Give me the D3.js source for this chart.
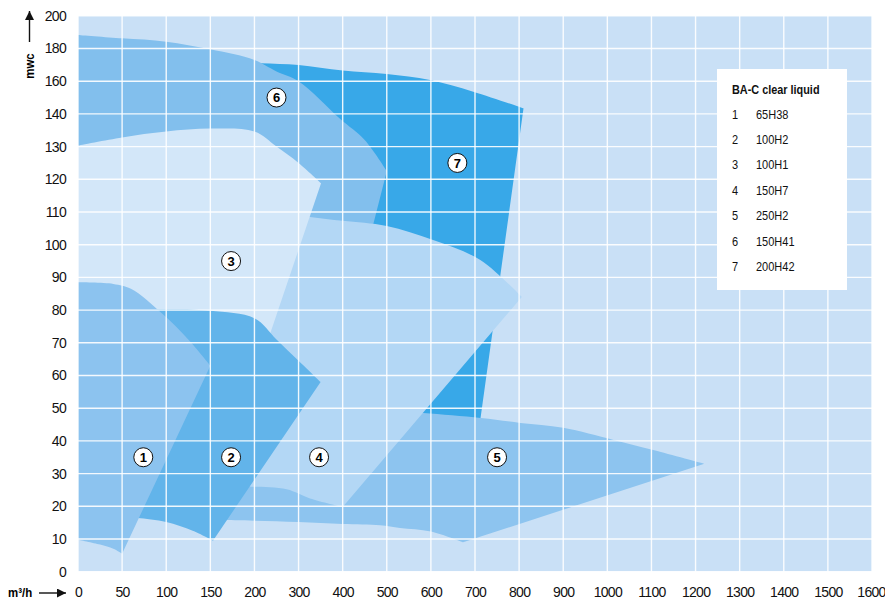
<!DOCTYPE html>
<html>
<head>
<meta charset="utf-8">
<script src="https://cdn.jsdelivr.net/npm/d3@7/dist/d3.min.js"></script>
<style>
  body { margin: 0; background: #fff; }
  svg { display: block; }
  .tick text { font-family: "Liberation Sans", Arial, sans-serif; font-size: 14px; letter-spacing: -0.7px; fill: #111; }
</style>
</head>
<body>
<svg width="885" height="601"></svg>
<script>
'use strict';

// axis ticks (scales are stretched: 50 per step up to 200, then 100 per step)
var xTicks = [0, 50, 100, 150, 200, 300, 400, 500, 600, 700, 800, 900, 1000, 1100, 1200, 1300, 1400, 1500, 1600];
var yTicks = [0, 10, 20, 30, 40, 50, 60, 70, 80, 90, 100, 110, 120, 130, 140, 160, 180, 200];

// pump ranges, [Q m3/h, H mwc]; each outline is a list of runs, runs joined by straight edges
var pump1 = [
    [[0, 88.5], [40, 88], [60, 86.5], [95, 79], [125, 71], [150, 63]],
    [[50, 5.5], [40, 7], [25, 8.3], [0, 9.8]]
];
var pump2 = [
    [[70, 80], [100, 80.2], [150, 79.8], [200, 77.5], [250, 71], [300, 64.5], [350, 58]],
    [[153, 9.5], [130, 12.5], [100, 15.2], [68, 16.4], [60, 16.5]]
];
var pump3 = [
    [[0, 130.3], [50, 132.8], [100, 134.6], [150, 135.5], [200, 134.6], [250, 130], [300, 125], [351, 118.8]],
    [[200, 58.6], [100, 55], [0, 55]]
];
var pump4 = [
    [[250, 110], [326, 108.5], [400, 107.3], [500, 105.7], [605, 101.4], [712, 95.3], [806, 84]],
    [[400, 19.8], [326, 22.4], [273, 25.2], [197, 26], [185, 26]],
    [[190, 60], [230, 100]]
];
var pump5 = [
    [[180, 50], [350, 49.8], [500, 49.2], [583, 48.5], [713, 47], [803, 45.5], [900, 44], [1014, 40.3], [1104, 37.2], [1220, 33]],
    [[673, 9], [600, 12.3], [530, 13.4], [485, 14.2], [400, 14.6], [300, 15.2], [200, 15.6], [160, 15.8], [150, 16]]
];
var pump6 = [
    [[0, 188.3], [50, 186.2], [100, 184.2], [150, 179.5], [200, 173], [250, 166], [300, 160], [394, 138.5], [450, 132], [500, 122.5]],
    [[450, 96], [300, 100]],
    [[150, 118], [0, 120]]
];
var pump7 = [
    [[150, 172], [213, 171], [300, 169.9], [400, 166.5], [500, 164.4], [598, 160.7], [696, 153.6], [810, 143.4]],
    [[712, 46.5], [520, 42]],
    [[450, 90], [300, 140]],
    [[200, 150], [150, 150]]
];

var pumpIds = ['1', '2', '3', '4', '5', '6', '7'];
var pumpNames = ['65H38', '100H2', '100H1', '150H7', '250H2', '150H41', '200H42'];
var labelPos = [[74, 35], [173.5, 35], [173.5, 95], [346.5, 35], [750, 35], [250, 150], [660, 125]];
var pumpColors = ['#8cc3ef', '#62b4ea', '#d3e7f9', '#b3d7f5', '#8dc4ef', '#82bfed', '#38a8e8'];

var outlines = [pump1, pump2, pump3, pump4, pump5, pump6, pump7];
var drawOrder = [6, 5, 4, 3, 2, 1, 0]; // 200H42 at the back, 65H38 in front

var svg = d3.select('svg');

var plotLeft = 78, plotRight = 872, plotBottom = 571.7, plotTop = 15.8;
var xStep = (plotRight - plotLeft) / 18, yStep = (plotBottom - plotTop) / 17;

var x = d3.scaleLinear().domain([0, 200, 1600]).range([plotLeft, plotLeft + 4 * xStep, plotRight]);
var y = d3.scaleLinear().domain([0, 140, 200]).range([plotBottom, plotBottom - 14 * yStep, plotTop]);

// plot background
svg.append('rect')
    .attr('x', plotLeft).attr('y', plotTop)
    .attr('width', plotRight - plotLeft).attr('height', plotBottom - plotTop)
    .attr('fill', '#c9e0f6');

var curve = d3.line()
    .x(function (d) { return x(d[0]); })
    .y(function (d) { return y(d[1]); })
    .curve(d3.curveCatmullRom.alpha(0.5));

var outlinePath = function (runs) {
    return runs.map(function (r, i) {
        var s = curve(r);
        return i === 0 ? s : 'L' + s.slice(1);
    }).join('') + 'Z';
};

svg.append('g').selectAll('path')
    .data(drawOrder)
    .enter().append('path')
    .attr('d', function (i) { return outlinePath(outlines[i]); })
    .attr('fill', function (i) { return pumpColors[i]; });

// white grid on top of the areas
var grid = svg.append('g').attr('stroke', '#fff').attr('stroke-width', 1.4).attr('stroke-opacity', 0.9);
grid.selectAll('.vx').data(xTicks).enter().append('line')
    .attr('x1', function (d) { return x(d); }).attr('x2', function (d) { return x(d); })
    .attr('y1', plotTop).attr('y2', plotBottom);
grid.selectAll('.hy').data(yTicks).enter().append('line')
    .attr('y1', function (d) { return y(d); }).attr('y2', function (d) { return y(d); })
    .attr('x1', plotLeft).attr('x2', plotRight);

// axes
var xAxis = svg.append('g')
    .attr('transform', 'translate(0,' + (plotBottom + 12) + ')')
    .call(d3.axisBottom(x).tickValues(xTicks).tickSize(0).tickFormat(d3.format('d')));
xAxis.select('.domain').remove();
xAxis.selectAll('.tick').filter(function (d) { return d === 1600; })
    .select('text').attr('dx', '-1px');

var yAxis = svg.append('g')
    .attr('transform', 'translate(' + (plotLeft - 9) + ',0)')
    .call(d3.axisLeft(y).tickValues(yTicks).tickSize(0).tickFormat(d3.format('d')));
yAxis.select('.domain').remove();

// numbered markers
var marks = svg.append('g').selectAll('g')
    .data(labelPos)
    .enter().append('g')
    .attr('transform', function (d) { return 'translate(' + x(d[0]) + ',' + y(d[1]) + ')'; });
marks.append('circle').attr('r', 9.5).attr('fill', '#fff').attr('stroke', '#111').attr('stroke-width', 1);
marks.append('text')
    .attr('text-anchor', 'middle').attr('dy', '0.36em')
    .attr('font-family', '"Liberation Sans", Arial, sans-serif')
    .attr('font-weight', 'bold').attr('font-size', 13)
    .text(function (d, i) { return pumpIds[i]; });

// axis titles with arrows
svg.append('defs').append('marker')
    .attr('id', 'head').attr('viewBox', '0 0 10 10')
    .attr('refX', 10).attr('refY', 5)
    .attr('markerWidth', 10).attr('markerHeight', 9)
    .attr('markerUnits', 'userSpaceOnUse')
    .attr('orient', 'auto')
    .append('path').attr('d', 'M0,0L10,5L0,10Z').attr('fill', '#111');

svg.append('line').attr('x1', 29.5).attr('y1', 42).attr('x2', 29.5).attr('y2', 11)
    .attr('stroke', '#111').attr('stroke-width', 1.4).attr('marker-end', 'url(#head)');
svg.append('text')
    .attr('transform', 'translate(34,66) rotate(-90) scale(0.88,1)')
    .attr('text-anchor', 'middle')
    .attr('font-family', '"Liberation Sans", Arial, sans-serif')
    .attr('font-weight', 'bold').attr('font-size', 13)
    .text('mwc');

svg.append('text')
    .attr('transform', 'translate(8,597) scale(0.88,1)')
    .attr('font-family', '"Liberation Sans", Arial, sans-serif')
    .attr('font-weight', 'bold').attr('font-size', 13)
    .text('m³/h');
svg.append('line').attr('x1', 39).attr('y1', 593).attr('x2', 66).attr('y2', 593)
    .attr('stroke', '#111').attr('stroke-width', 1.4).attr('marker-end', 'url(#head)');

// legend (text squeezed horizontally to look condensed)
var legend = svg.append('g')
    .attr('font-family', '"Liberation Sans", Arial, sans-serif')
    .attr('font-size', 12.5).attr('fill', '#111');
legend.append('rect').attr('x', 717).attr('y', 69).attr('width', 130).attr('height', 221).attr('fill', '#fff');
legend.append('text')
    .attr('transform', 'translate(732,93.5) scale(0.87,1)')
    .attr('font-weight', 'bold').text('BA-C clear liquid');
var rows = legend.selectAll('.row').data(pumpNames).enter().append('g')
    .attr('transform', function (d, i) { return 'translate(0,' + (114 + i * 25.4) + ')'; });
rows.append('text').attr('transform', 'translate(732,0) scale(0.88,1)').attr('dy', '0.36em')
    .text(function (d, i) { return pumpIds[i]; });
rows.append('text').attr('transform', 'translate(756,0) scale(0.88,1)').attr('dy', '0.36em')
    .text(function (d) { return d; });
</script>
</body>
</html>
